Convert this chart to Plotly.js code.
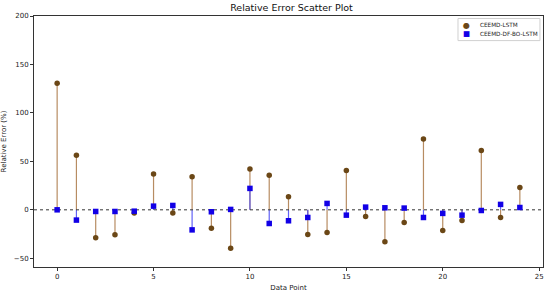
<!DOCTYPE html>
<html>
<head>
<meta charset="utf-8">
<script src="https://cdn.plot.ly/plotly-3.0.1.min.js"></script>
<style>
  html, body { margin: 0; padding: 0; background: #fff; }
  #chart { width: 550px; height: 292px; }
</style>
</head>
<body>
<div id="chart"></div>
<script>
const points = [0, 1, 2, 3, 4, 5, 6, 7, 8, 9, 10, 11, 12, 13, 14, 15, 16, 17, 18, 19, 20, 21, 22, 23, 24];
const lstmErr = [130.6, 56.2, -28.9, -25.8, -3.2, 36.9, -3.4, 34.1, -18.9, -39.6, 42.0, 35.8,
  13.4, -25.4, -23.4, 40.7, -6.9, -33.0, -13.0, 73.0, -21.3, -11.0, 61.2, -7.9, 23.1];
const dfErr = [0.0, -10.6, -1.7, -1.7, -1.4, 3.8, 4.5, -20.7, -2.0, 0.4, 22.1, -14.1,
  -11.3, -7.9, 6.6, -5.5, 2.8, 2.1, 1.8, -7.9, -3.7, -5.5, -0.7, 5.6, 2.4];
const seriesNames = ["CEEMD-LSTM", "CEEMD-DF-BO-LSTM"];
const xTicks = [0, 5, 10, 15, 20, 25];
const yTicks = [-50, 0, 50, 100, 150, 200];

const brown = "#6b4716";
const blue = "#1200e6";

// vertical stems from zero, separated by nulls
function stems(vals) {
  const xs = [], ys = [];
  points.forEach((p, i) => {
    xs.push(p, p, null);
    ys.push(0, vals[i], null);
  });
  return { x: xs, y: ys };
}

const lstmStem = stems(lstmErr);
const dfStem = stems(dfErr);

const traces = [
  {
    x: lstmStem.x, y: lstmStem.y, mode: "lines", hoverinfo: "skip",
    line: { color: "rgba(170,120,70,0.85)", width: 1.2 },
  },
  {
    x: dfStem.x, y: dfStem.y, mode: "lines", hoverinfo: "skip",
    line: { color: "rgba(70,70,245,0.85)", width: 1.2 },
  },
  {
    x: [-1.2, 25.2], y: [0, 0], mode: "lines", hoverinfo: "skip",
    line: { color: "#333", width: 1, dash: "dot" },
  },
  {
    x: points, y: lstmErr, mode: "markers", type: "scatter", name: seriesNames[0],
    marker: { symbol: "circle", size: 5.5, color: brown },
  },
  {
    x: points, y: dfErr, mode: "markers", type: "scatter", name: seriesNames[1],
    marker: { symbol: "square", size: 5.5, color: blue },
  },
];

const axisBase = {
  showline: true, linecolor: "#333", linewidth: 1, mirror: true,
  ticks: "outside", ticklen: 3, tickcolor: "#333", tickwidth: 1,
  showgrid: false, zeroline: false,
  tickfont: { size: 7, color: "#222" },
};

// compact legend drawn by hand (plotly's legend rows are too tall at this size)
const legendRows = [0.963, 0.929];
const legendGlyphs = ["●", "■"];
const legendColors = [brown, blue];
const legendAnn = [];
seriesNames.forEach((name, i) => {
  legendAnn.push({
    xref: "paper", yref: "paper", x: 0.849, y: legendRows[i],
    xanchor: "center", yanchor: "middle", showarrow: false,
    text: legendGlyphs[i], font: { size: i === 0 ? 8 : 7.5, color: legendColors[i] },
  });
  legendAnn.push({
    xref: "paper", yref: "paper", x: 0.872, y: legendRows[i],
    xanchor: "left", yanchor: "middle", showarrow: false,
    text: name, font: { size: 5.7, color: "#222" },
  });
});

const layout = {
  width: 550, height: 292,
  margin: { l: 34, r: 7, t: 16, b: 25 },
  paper_bgcolor: "#fff", plot_bgcolor: "#fff",
  font: { family: "DejaVu Sans, sans-serif", color: "#222" },
  showlegend: false,
  title: {
    text: "Relative Error Scatter Plot",
    font: { size: 9.5, color: "#111" },
    x: 0.53, xanchor: "center", y: 0.985, yanchor: "top",
  },
  xaxis: Object.assign({}, axisBase, {
    range: [-1.2, 25.2], tickvals: xTicks,
    title: { text: "Data Point", font: { size: 7 }, standoff: 4 },
  }),
  yaxis: Object.assign({}, axisBase, {
    range: [-59, 200], tickvals: yTicks,
    title: { text: "Relative Error (%)", font: { size: 7 }, standoff: 6 },
  }),
  shapes: [{
    type: "rect", xref: "paper", yref: "paper",
    x0: 0.833, x1: 0.994, y0: 0.902, y1: 0.99,
    line: { color: "#d0d0d0", width: 1 }, fillcolor: "rgba(255,255,255,0.8)",
  }],
  annotations: legendAnn,
};

Plotly.newPlot("chart", traces, layout, { displayModeBar: false, staticPlot: true });
</script>
</body>
</html>
